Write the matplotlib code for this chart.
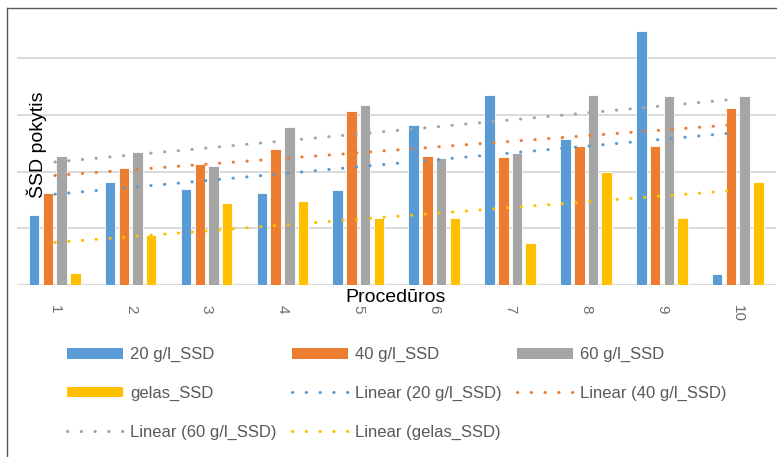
import numpy as np
import matplotlib
matplotlib.use("Agg")
import matplotlib.pyplot as plt
from matplotlib.patches import Patch
from matplotlib.lines import Line2D

categories = ["1", "2", "3", "4", "5", "6", "7", "8", "9", "10"]
s20 = [1.24, 1.81, 1.70, 1.62, 1.67, 2.81, 3.34, 2.57, 4.47, 0.20]
s40 = [1.62, 2.06, 2.13, 2.40, 3.06, 2.27, 2.25, 2.44, 2.44, 3.12]
s60 = [2.27, 2.34, 2.10, 2.79, 3.16, 2.23, 2.32, 3.34, 3.33, 3.33]
sgel = [0.22, 0.88, 1.45, 1.49, 1.18, 1.18, 0.74, 1.99, 1.18, 1.81]
series_names = ["20 g/l_SSD", "40 g/l_SSD", "60 g/l_SSD", "gelas_SSD"]
colors = ["#5B9BD5", "#ED7D31", "#A5A5A5", "#FFC000"]

plt.rcParams['font.family'] = ['Liberation Sans', 'DejaVu Sans']

W, H = 777, 457
fig = plt.figure(figsize=(W / 100, H / 100), dpi=100)
ax = fig.add_axes([17 / W, 1 - 285.3 / H, (776 - 17) / W, (285.3 - 20) / H])

x = np.arange(1, len(categories) + 1)
offsets = [-0.275, -0.092, 0.088, 0.268]
width = 0.138
data = [s20, s40, s60, sgel]
for vals, off, c in zip(data, offsets, colors):
    ax.bar(x + off, vals, width=width, color=c, edgecolor="white", linewidth=0.6, zorder=2)

dot = (0, (0.1, 4.4))
# linear trendlines
for vals, c in zip(data, colors):
    k, b = np.polyfit(x, vals, 1)
    ax.plot(x, k * x + b, color=c, linestyle=dot, lw=2.2,
            dash_capstyle="round", zorder=3)

ax.set_xlim(0.5, 10.5)
ax.set_ylim(0, (285.3 - 20) / 56.9)
ax.set_yticks([0, 1, 2, 3, 4])
ax.yaxis.grid(True, color="#D9D9D9", lw=1.4, zorder=0)
ax.set_axisbelow(True)
ax.tick_params(axis="y", left=False, labelleft=False)
ax.set_xticks(x)
ax.set_xticklabels(categories, rotation=-90, color="#6E6E6E", fontsize=11)
ax.tick_params(axis="x", length=0, pad=14)
for s in ax.spines.values():
    s.set_visible(False)
ax.axhline(0, color="#D9D9D9", lw=1.6, zorder=1)

fig.text(37 / W, 1 - 145 / H, "ŠSD pokytis", rotation=90, ha="center", va="center",
         fontsize=14, color="#000000")
fig.text(396 / W, 1 - 298 / H, "Procedūros", ha="center", va="center",
         fontsize=14, color="#000000")

# figure border (left & top visible)
fig.add_artist(Line2D([7 / W, 7 / W], [0, 1 - 8 / H], color="#595959", lw=1.0,
                      transform=fig.transFigure))
fig.add_artist(Line2D([7 / W, 1], [1 - 8 / H, 1 - 8 / H], color="#595959", lw=1.0,
                      transform=fig.transFigure))

handles = [Patch(facecolor=colors[0]), Patch(facecolor=colors[1]), Patch(facecolor=colors[2]),
           Patch(facecolor=colors[3]),
           Line2D([], [], color=colors[0], linestyle=dot, lw=2.2, dash_capstyle="round"),
           Line2D([], [], color=colors[1], linestyle=dot, lw=2.2, dash_capstyle="round"),
           Line2D([], [], color=colors[2], linestyle=dot, lw=2.2, dash_capstyle="round"),
           Line2D([], [], color=colors[3], linestyle=dot, lw=2.2, dash_capstyle="round")]
labels = series_names + ["Linear (20 g/l_SSD)", "Linear (40 g/l_SSD)",
                         "Linear (60 g/l_SSD)", "Linear (gelas_SSD)"]
# arrange row-wise for matplotlib column-major ordering
order_rows = [[0, 1, 2], [3, 4, 5], [6, 7]]
cols = [[], [], []]
for r in order_rows:
    for j, idx in enumerate(r):
        cols[j].append(idx)
flat = cols[0] + cols[1] + cols[2]
leg = fig.legend([handles[i] for i in flat], [labels[i] for i in flat], ncol=3,
                 loc="center left", bbox_to_anchor=(67 / W, 1 - 393.5 / H),
                 borderpad=0, borderaxespad=0,
                 frameon=False, fontsize=12, handlelength=3.35, handleheight=0.6,
                 handletextpad=0.42, columnspacing=0.95, labelspacing=1.42,
                 labelcolor="#595959")

fig.savefig("out.png", dpi=100)
